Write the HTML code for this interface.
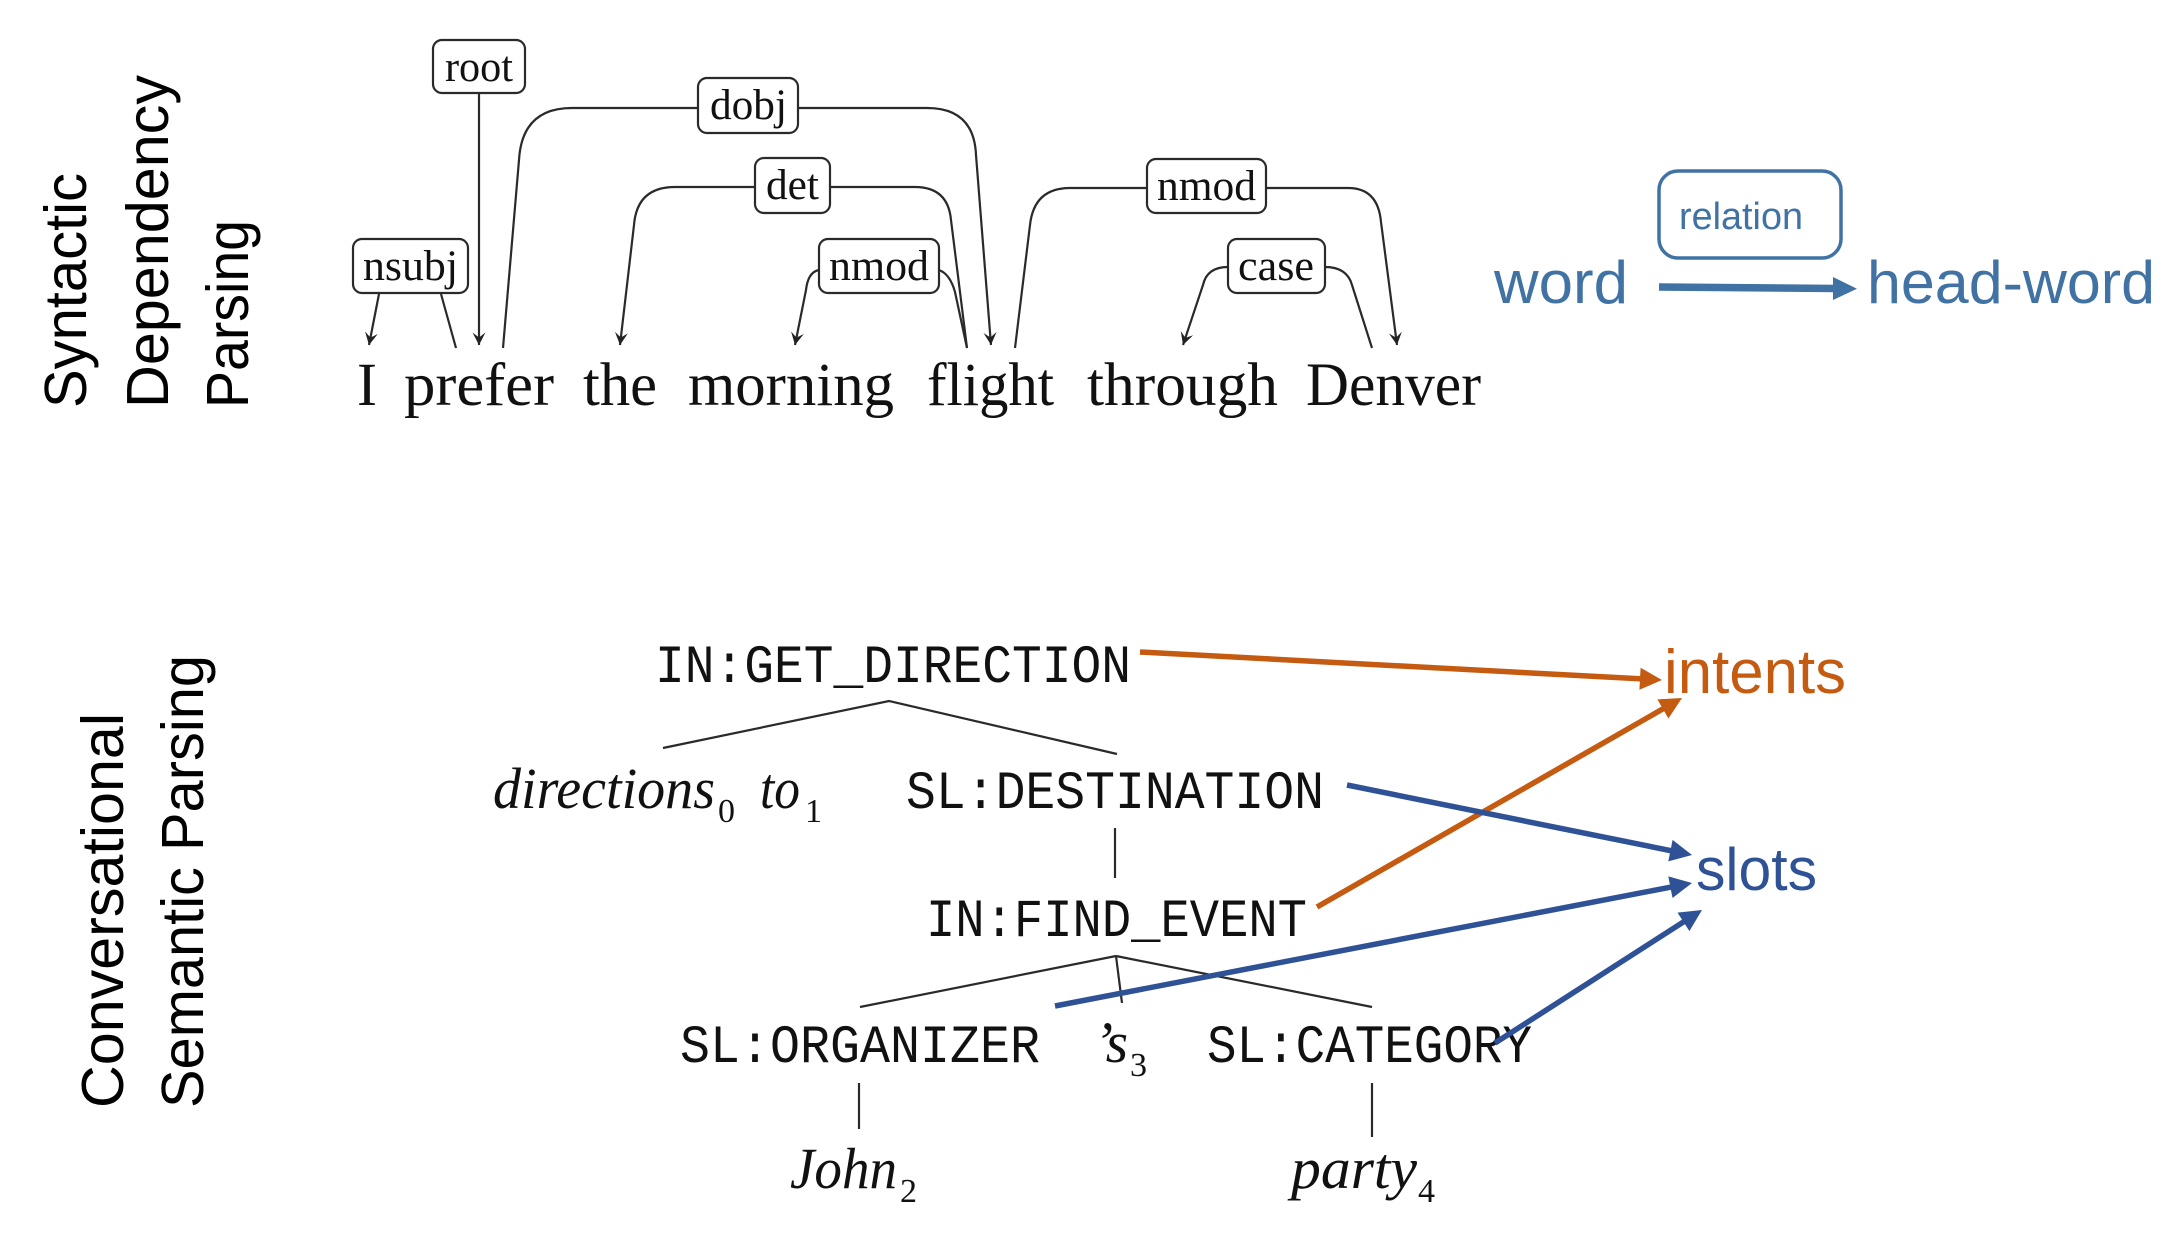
<!DOCTYPE html>
<html><head><meta charset="utf-8"><style>
html,body{margin:0;padding:0;background:#fff;}
svg{display:block;}
.tm{font-family:"Liberation Serif",serif;fill:#111;}
.it{font-family:"Liberation Serif",serif;font-style:italic;fill:#111;}
.mo{font-family:"Liberation Mono",monospace;fill:#111;}
.sa{font-family:"Liberation Sans",sans-serif;}
.ln{stroke:#2a2a2a;stroke-width:2.2;fill:none;}
.bx{stroke:#2a2a2a;stroke-width:2.2;fill:#fff;}
</style></head><body>
<svg width="2180" height="1249" viewBox="0 0 2180 1249" xmlns="http://www.w3.org/2000/svg">
<defs>
<marker id="dh" markerUnits="userSpaceOnUse" markerWidth="14" markerHeight="16" viewBox="-13 -8 14 16" refX="0" refY="0" orient="auto"><path d="M0,0 L-12.5,-6.5 L-7.5,0 L-12.5,6.5 z" fill="#222"/></marker>
</defs>
<rect width="2180" height="1249" fill="#fff"/>

<!-- vertical labels top -->
<g class="sa" font-size="59" fill="#000">
<text transform="translate(86,408) rotate(-90)" textLength="235" lengthAdjust="spacingAndGlyphs">Syntactic</text>
<text transform="translate(168,408) rotate(-90)" textLength="333" lengthAdjust="spacingAndGlyphs">Dependency</text>
<text transform="translate(248,408) rotate(-90)" textLength="188" lengthAdjust="spacingAndGlyphs">Parsing</text>
<text transform="translate(123,1108) rotate(-90)" textLength="395" lengthAdjust="spacingAndGlyphs">Conversational</text>
<text transform="translate(203,1108) rotate(-90)" textLength="453" lengthAdjust="spacingAndGlyphs">Semantic Parsing</text>
</g>

<!-- dependency arcs -->
<path class="ln" d="M379,294 L369,345" marker-end="url(#dh)"/>
<path class="ln" d="M441,294 L456,348"/>
<path class="ln" d="M479,93 L479,345" marker-end="url(#dh)"/>
<path class="ln" d="M503,348 L519,160 Q522,108 572,108 L698,108"/>
<path class="ln" d="M798,108 L927,108 Q974,108 976,155 L991,345" marker-end="url(#dh)"/>
<path class="ln" d="M755,187 L675,187 Q637,187 634,225 L620,345" marker-end="url(#dh)"/>
<path class="ln" d="M830,187 L915,187 Q948,187 951,220 L967,348"/>
<path class="ln" d="M819,270 Q808,272 806,290 L795,345" marker-end="url(#dh)"/>
<path class="ln" d="M939,270 Q950,274 955,292 L967,348"/>
<path class="ln" d="M1015,348 L1030,225 Q1034,188 1070,188 L1147,188"/>
<path class="ln" d="M1266,188 L1348,188 Q1378,188 1381,222 L1397,345" marker-end="url(#dh)"/>
<path class="ln" d="M1228,267 Q1207,267 1203,285 L1183,345" marker-end="url(#dh)"/>
<path class="ln" d="M1325,267 Q1347,267 1352,285 L1372,348"/>

<!-- label boxes -->
<g class="bx">
<rect x="433" y="40" width="92" height="53" rx="9"/>
<rect x="698" y="78" width="100" height="55" rx="9"/>
<rect x="755" y="158" width="75" height="55" rx="9"/>
<rect x="353" y="239" width="115" height="54" rx="9"/>
<rect x="819" y="239" width="120" height="54" rx="9"/>
<rect x="1147" y="159" width="119" height="54" rx="9"/>
<rect x="1228" y="239" width="97" height="54" rx="9"/>
</g>
<g class="tm" font-size="43">
<text x="445" y="81" textLength="68" lengthAdjust="spacingAndGlyphs">root</text>
<text x="710" y="119" textLength="77" lengthAdjust="spacingAndGlyphs">dobj</text>
<text x="766" y="199" textLength="53" lengthAdjust="spacingAndGlyphs">det</text>
<text x="363" y="280" textLength="95" lengthAdjust="spacingAndGlyphs">nsubj</text>
<text x="829" y="280" textLength="100" lengthAdjust="spacingAndGlyphs">nmod</text>
<text x="1157" y="200" textLength="99" lengthAdjust="spacingAndGlyphs">nmod</text>
<text x="1238" y="280" textLength="76" lengthAdjust="spacingAndGlyphs">case</text>
</g>

<!-- sentence -->
<g class="tm" font-size="61">
<text x="357" y="405" textLength="20" lengthAdjust="spacingAndGlyphs">I</text>
<text x="404" y="405" textLength="150" lengthAdjust="spacingAndGlyphs">prefer</text>
<text x="583" y="405" textLength="74" lengthAdjust="spacingAndGlyphs">the</text>
<text x="688" y="405" textLength="206" lengthAdjust="spacingAndGlyphs">morning</text>
<text x="927" y="405" textLength="127" lengthAdjust="spacingAndGlyphs">flight</text>
<text x="1087" y="405" textLength="191" lengthAdjust="spacingAndGlyphs">through</text>
<text x="1306" y="405" textLength="175" lengthAdjust="spacingAndGlyphs">Denver</text>
</g>

<!-- legend -->
<g class="sa" fill="#4072a4">
<text x="1494" y="303" font-size="60" textLength="134" lengthAdjust="spacingAndGlyphs">word</text>
<text x="1867" y="303" font-size="60" textLength="288" lengthAdjust="spacingAndGlyphs">head-word</text>
<text x="1679" y="229" font-size="38" textLength="124" lengthAdjust="spacingAndGlyphs">relation</text>
</g>
<rect x="1659" y="171" width="182" height="87" rx="19" fill="none" stroke="#4072a4" stroke-width="3.5"/>
<line x1="1659" y1="287" x2="1836" y2="288.5" stroke="#4072a4" stroke-width="7.5"/>
<polygon points="1833,277 1857,288.7 1833,300" fill="#4072a4"/>

<!-- semantic tree -->
<g class="mo" font-size="54">
<text x="655" y="682" textLength="476" lengthAdjust="spacingAndGlyphs">IN:GET_DIRECTION</text>
<text x="906" y="808" textLength="418" lengthAdjust="spacingAndGlyphs">SL:DESTINATION</text>
<text x="926" y="936" textLength="381" lengthAdjust="spacingAndGlyphs">IN:FIND_EVENT</text>
<text x="680" y="1062" textLength="360" lengthAdjust="spacingAndGlyphs">SL:ORGANIZER</text>
<text x="1207" y="1062" textLength="325" lengthAdjust="spacingAndGlyphs">SL:CATEGORY</text>
</g>
<g class="it" font-size="58">
<text x="493" y="808" textLength="222" lengthAdjust="spacingAndGlyphs">directions</text>
<text x="760" y="808" textLength="40" lengthAdjust="spacingAndGlyphs">to</text>
<text x="1094" y="1062" textLength="34" lengthAdjust="spacingAndGlyphs">’s</text>
<text x="790" y="1188" textLength="107" lengthAdjust="spacingAndGlyphs">John</text>
<text x="1291" y="1188" textLength="126" lengthAdjust="spacingAndGlyphs">party</text>
</g>
<g class="tm" font-size="34">
<text x="718" y="822">0</text>
<text x="805" y="822">1</text>
<text x="1130" y="1076">3</text>
<text x="900" y="1202">2</text>
<text x="1418" y="1202">4</text>
</g>
<g class="ln">
<polyline points="663,748 889,701 1117,754"/>
<line x1="1115" y1="828" x2="1115" y2="878"/>
<line x1="1116" y1="956" x2="860" y2="1007"/>
<line x1="1116" y1="956" x2="1122" y2="1003"/>
<line x1="1116" y1="956" x2="1372" y2="1007"/>
<line x1="859" y1="1083" x2="859" y2="1129"/>
<line x1="1372" y1="1083" x2="1372" y2="1137"/>
</g>

<!-- intents / slots -->
<text class="sa" x="1664" y="693" font-size="62" fill="#C55A11" textLength="182" lengthAdjust="spacingAndGlyphs">intents</text>
<text class="sa" x="1696" y="890" font-size="60" fill="#2f5296" textLength="121" lengthAdjust="spacingAndGlyphs">slots</text>

<g stroke-width="5.5" fill="none">
<line x1="1140" y1="652" x2="1642" y2="678.9" stroke="#C55A11"/>
<line x1="1317" y1="907" x2="1664.6" y2="707.9" stroke="#C55A11"/>
<line x1="1347" y1="785" x2="1672.4" y2="851" stroke="#2f5296"/>
<line x1="1055" y1="1006" x2="1672.4" y2="886.8" stroke="#2f5296"/>
<line x1="1495" y1="1043" x2="1685.2" y2="920.8" stroke="#2f5296"/>
</g>
<polygon points="1662,680 1639.4,689.8 1640.6,667.8" fill="#C55A11"/>
<polygon points="1682,698 1668.4,718.5 1657.4,699.4" fill="#C55A11"/>
<polygon points="1692,855 1668.3,861.4 1672.6,839.9" fill="#2f5296"/>
<polygon points="1692,883 1672.5,898 1668.3,876.4" fill="#2f5296"/>
<polygon points="1702,910 1689.4,931.1 1677.5,912.6" fill="#2f5296"/>
</svg>
</body></html>
